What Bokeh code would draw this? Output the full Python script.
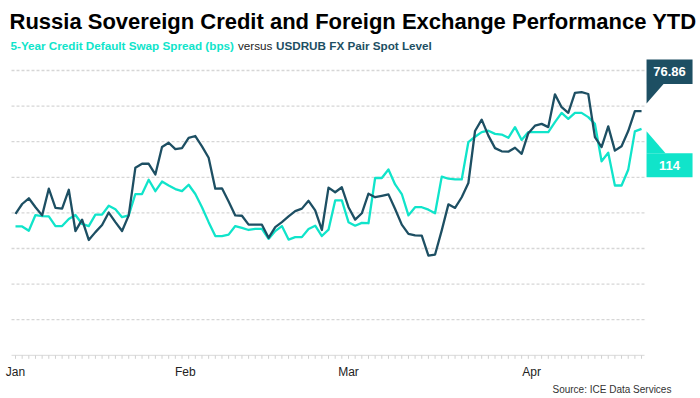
from bokeh.plotting import figure
from bokeh.models import Range1d, Label
from bokeh.embed import file_html
from bokeh.resources import INLINE

# ---------------- data ----------------
usdrub = [73.97, 74.25, 74.41, 74.16, 73.93, 74.68, 74.14, 74.12, 74.65, 73.49,
          73.81, 73.24, 73.46, 73.66, 74.01, 73.74, 73.49, 73.93, 75.27, 75.38,
          75.38, 75.08, 75.85, 75.97, 75.79, 75.82, 76.11, 76.16, 75.87, 75.55,
          74.68, 74.69, 74.32, 73.93, 73.92, 73.67, 73.67, 73.67, 73.30, 73.60,
          73.74, 73.90, 74.05, 74.12, 74.34, 74.07, 73.52, 74.71, 74.58, 74.72,
          74.16, 73.81, 73.99, 74.54, 74.44, 74.48, 74.52, 74.11, 73.67, 73.41,
          73.37, 73.36, 72.80, 72.83, 73.51, 74.24, 74.14, 74.44, 74.84, 76.30,
          76.62, 76.17, 75.82, 75.73, 75.72, 75.83, 75.66, 76.24, 76.45, 76.50,
          76.41, 77.33, 76.97, 76.81, 77.37, 77.39, 77.34, 76.13, 75.85, 76.43,
          75.75, 75.87, 76.30, 76.86, 76.86]

cds_5y = [86.6, 86.6, 85.4, 89.8, 89.5, 89.4, 86.7, 86.7, 88.7, 89.8,
          87.3, 86.7, 89.9, 89.9, 92.4, 91.4, 89.2, 89.7, 95.7, 95.7,
          99.7, 96.5, 99.2, 98.1, 97.1, 96.5, 98.3, 95.7, 92.0, 87.8,
          83.9, 83.9, 84.3, 86.7, 86.2, 85.6, 85.9, 85.9, 83.1, 85.3,
          86.7, 82.9, 83.6, 83.6, 85.9, 86.8, 83.9, 85.7, 93.9, 93.9,
          87.8, 86.8, 87.6, 87.5, 100.2, 100.2, 102.6, 98.4, 95.7, 89.7,
          92.0, 92.0, 91.3, 90.3, 100.6, 100.0, 99.8, 99.8, 110.3, 111.8,
          113.1, 113.5, 112.6, 112.4, 111.5, 114.5, 110.9, 113.1, 113.1, 113.1,
          113.1, 115.9, 118.5, 116.8, 118.5, 118.5, 117.3, 115.4, 104.9, 107.3,
          98.1, 98.1, 102.5, 113.3, 114.0]

month_labels = ["Jan", "Feb", "Mar", "Apr"]
month_index = [0, 25.5, 50, 77.5]
axis_level = 70
grid_levels = [71, 72, 73, 74, 75, 76, 77, 78]

title_text = "Russia Sovereign Credit and Foreign Exchange Performance YTD"
sub_cds = "5-Year Credit Default Swap Spread (bps)"
sub_vs = "versus"
sub_fx = "USDRUB FX Pair Spot Level"
source_text = "Source:  ICE Data Services"

# ---------------- styling ----------------
DARK = "#1d4f63"
CYAN = "#10e4ca"
GRID = "#d6d6d6"
FONT = "Liberation Sans"

xs = list(range(len(usdrub)))
last_i = xs[-1]

W, H = 700, 398
PX_X = 6.66      # pixels per index step
PX_USD = 35.6    # pixels per rouble
PX_CDS = 3.56    # pixels per bp
X0_PX = 15       # page x of first point
AX_PX = 354.8    # page y of axis baseline
CDS_AT_AXIS = 50.4

x_start = -X0_PX / PX_X
p = figure(width=W, height=H, output_backend="svg", toolbar_location=None,
           title=None, x_axis_location=None, y_axis_location=None,
           x_range=Range1d(x_start, x_start + W / PX_X),
           y_range=Range1d(axis_level - (H - AX_PX) / PX_USD,
                           axis_level + AX_PX / PX_USD),
           min_border=0)
p.extra_y_ranges = {"cds": Range1d(CDS_AT_AXIS - (H - AX_PX) / PX_CDS,
                                   CDS_AT_AXIS + AX_PX / PX_CDS)}
p.outline_line_color = None
p.background_fill_color = "white"
p.border_fill_color = "white"
p.grid.visible = False

# grid lines
gx0 = x_start + 11 / PX_X
gx1 = last_i + 4 / PX_X
p.segment(x0=gx0, x1=gx1, y0=grid_levels, y1=grid_levels,
          line_color=GRID, line_dash="3 2", line_width=1.3)

# x axis: baseline, day ticks, month labels
p.segment(x0=gx0, x1=last_i + 3 / PX_X, y0=axis_level, y1=axis_level,
          line_color="#d9d9d9", line_width=1)
p.segment(x0=xs, x1=xs, y0=axis_level, y1=axis_level - 3.5 / PX_USD,
          line_color="#d0d0d0", line_width=1)
for mi, ml in zip(month_index, month_labels):
    p.add_layout(Label(x=mi, y=H - 371, x_units="data", y_units="screen",
                       text=ml, text_align="center", text_baseline="alphabetic",
                       text_font=FONT, text_font_size="12px",
                       text_color="#222222"))

# series
p.line(xs, cds_5y, y_range_name="cds", line_color=CYAN, line_width=2.3,
       line_join="round")
p.line(xs, usdrub, line_color=DARK, line_width=2.3, line_join="round")

# callout: USDRUB
lu = usdrub[-1]
bl = last_i + 5 / PX_X
br = last_i + 51 / PX_X
bt = lu + 51.5 / PX_USD
bb = lu + 27.2 / PX_USD
p.quad(left=bl, right=br, top=bt, bottom=bb, fill_color=DARK, line_color=None)
p.patch([bl, bl, last_i + 22 / PX_X], [lu + 7.7 / PX_USD, bb, bb],
        fill_color=DARK, line_color=None)
p.add_layout(Label(x=(bl + br) / 2, y=(bt + bb) / 2, text=f"{lu:.2f}",
                   text_align="center", text_baseline="middle",
                   text_color="white", text_font=FONT, text_font_style="bold",
                   text_font_size="13px"))

# callout: CDS
lc = cds_5y[-1]
ct = lc - 24.4 / PX_CDS
cb = lc - 48.4 / PX_CDS
p.quad(left=bl, right=br, top=ct, bottom=cb, fill_color=CYAN, line_color=None,
       y_range_name="cds")
p.patch([bl, bl, last_i + 24 / PX_X], [lc - 2.4 / PX_CDS, ct, ct],
        fill_color=CYAN, line_color=None, y_range_name="cds")
p.add_layout(Label(x=(bl + br) / 2, y=(ct + cb) / 2, text=f"{lc:.0f}",
                   y_range_name="cds",
                   text_align="center", text_baseline="middle",
                   text_color="white", text_font=FONT, text_font_style="bold",
                   text_font_size="13px"))

# titles (screen units: x from left, y up from bottom of canvas)
def slabel(x, y_top, text, size, color, style="normal"):
    p.add_layout(Label(x=x, y=H - y_top, x_units="screen", y_units="screen",
                       text=text, text_font=FONT, text_font_size=size,
                       text_color=color, text_font_style=style,
                       text_align="left", text_baseline="alphabetic"))

slabel(9, 21, title_text, "22px", "#000000", "bold")
slabel(10, 45, sub_cds, "11.7px", CYAN, "bold")
slabel(237.5, 45, sub_vs, "11.7px", "#222222")
slabel(275.5, 45, sub_fx, "11.7px", DARK, "bold")
slabel(552, 389, source_text, "10px", "#333333")

open("out.html", "w").write(file_html(p, INLINE))
